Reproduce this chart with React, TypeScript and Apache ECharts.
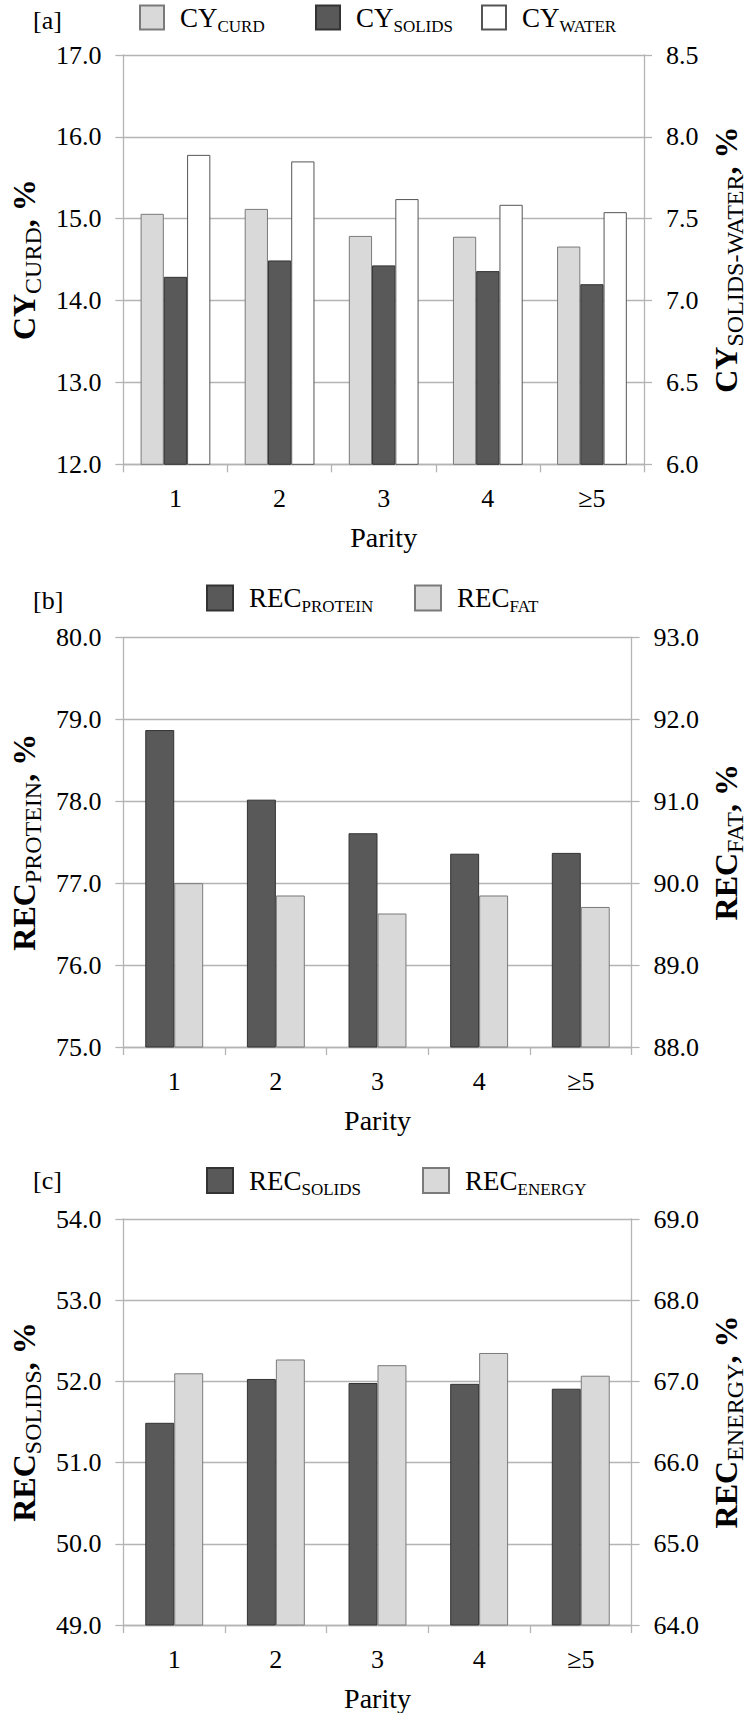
import React, { useEffect, useRef } from "react";
import * as echarts from "echarts";

// Parity classes on the category axis
const parity = ["1", "2", "3", "4", "≥5"];

// [a] cheese yield, %
const cyCurd = [15.06, 15.12, 14.79, 14.78, 14.66];
const cySolids = [7.145, 7.245, 7.215, 7.18, 7.1];
const cyWater = [7.89, 7.85, 7.62, 7.585, 7.54];

// [b] recoveries of protein and fat, %
const recProtein = [78.87, 78.02, 77.61, 77.36, 77.37];
const recFat = [90.0, 89.85, 89.63, 89.85, 89.71];

// [c] recoveries of solids and energy, %
const recSolids = [51.49, 52.03, 51.98, 51.97, 51.91];
const recEnergy = [67.1, 67.27, 67.2, 67.35, 67.07];

const FONT = "'Liberation Serif', 'Times New Roman', serif";
const GRID_COLOR = "#b4b4b4";
const LIGHT = "#d9d9d9";
const DARK = "#595959";
const WHITE = "#ffffff";

const titleRich = {
  m: { fontFamily: FONT, fontSize: 32, fontWeight: "bold" as const, color: "#000" },
  s: { fontFamily: FONT, fontSize: 24, color: "#000", padding: [18, 0, 0, 0] },
};

const legendRich = {
  l: { fontFamily: FONT, fontSize: 27, color: "#000", padding: [0, 0, 0, 11] },
  s: { fontFamily: FONT, fontSize: 17, color: "#000", padding: [17, 0, 0, 0] },
};

function valueAxis(
  gridIndex: number,
  position: "left" | "right",
  min: number,
  max: number,
  interval: number,
  name: string,
  nameGap: number
) {
  return {
    type: "value",
    gridIndex,
    position,
    min,
    max,
    interval,
    name,
    nameLocation: "middle",
    nameRotate: 90,
    nameGap,
    nameTextStyle: { fontFamily: FONT, rich: titleRich },
    axisLine: { show: true, lineStyle: { color: GRID_COLOR, width: 1.3 } },
    axisTick: { show: true, length: 8, lineStyle: { color: GRID_COLOR, width: 1.3 } },
    axisLabel: {
      margin: 22,
      fontFamily: FONT,
      fontSize: 26,
      color: "#000",
      formatter: (v: number) => v.toFixed(1),
    },
    splitLine: {
      show: position === "left",
      lineStyle: { color: GRID_COLOR, width: 1.3 },
    },
  };
}

function categoryAxis(gridIndex: number) {
  return {
    type: "category",
    gridIndex,
    data: parity,
    name: "Parity",
    nameLocation: "middle",
    nameGap: 59,
    nameTextStyle: { fontFamily: FONT, fontSize: 28, color: "#000", lineHeight: 28 },
    axisLine: { show: true, lineStyle: { color: GRID_COLOR, width: 1.3 } },
    axisTick: { show: true, length: 8, lineStyle: { color: GRID_COLOR, width: 1.3 } },
    axisLabel: {
      margin: 21,
      fontFamily: FONT,
      fontSize: 26,
      lineHeight: 26,
      color: "#000",
    },
    splitLine: { show: false },
  };
}

function barSeries(
  name: string,
  data: number[],
  xAxisIndex: number,
  yAxisIndex: number,
  color: string,
  borderColor: string,
  gap: string
) {
  return {
    name,
    type: "bar",
    xAxisIndex,
    yAxisIndex,
    data,
    barGap: "0%",
    barCategoryGap: gap,
    itemStyle: { color, borderColor, borderWidth: 1 },
    emphasis: { disabled: true },
  };
}

function legendItem(name: string, left: number, top: number, w: number, h: number) {
  return {
    data: [name],
    left,
    top,
    itemWidth: w,
    itemHeight: h,
    itemGap: 0,
    padding: 0,
    icon: "rect",
    selectedMode: false,
    formatter: (n: string) => {
      const [a, b] = n.split("_");
      return `{l|${a}}{s|${b}}`;
    },
    textStyle: { fontFamily: FONT, rich: legendRich },
  };
}

function panelLabel(text: string, y: number) {
  return {
    type: "text",
    left: 33,
    top: y - 15,
    style: { text, fontFamily: FONT, fontSize: 26, fill: "#000" },
  };
}

export default function App() {
  const ref = useRef<HTMLDivElement>(null);

  useEffect(() => {
    document.body.style.margin = "0";
    const chart = echarts.init(ref.current!, undefined, { renderer: "svg" });
    chart.setOption({
      animation: false,
      backgroundColor: "#fff",
      textStyle: { fontFamily: FONT },
      grid: [
        { left: 114.3, right: 97.3, top: 55, height: 409.3 },
        { left: 114.6, right: 109.2, top: 637.5, height: 409.5 },
        { left: 114.6, right: 109.2, top: 1219, height: 408 },
      ],
      xAxis: [categoryAxis(0), categoryAxis(1), categoryAxis(2)],
      yAxis: [
        valueAxis(0, "left", 12, 17, 1, "{m|CY}{s|CURD}{m|, %}", 64),
        valueAxis(0, "right", 6, 8.5, 0.5, "{m|CY}{s|SOLIDS-WATER}{m|, %}", 61),
        valueAxis(1, "left", 75, 80, 1, "{m|REC}{s|PROTEIN}{m|, %}", 63.5),
        valueAxis(1, "right", 88, 93, 1, "{m|REC}{s|FAT}{m|, %}", 68),
        valueAxis(2, "left", 49, 54, 1, "{m|REC}{s|SOLIDS}{m|, %}", 63.5),
        valueAxis(2, "right", 64, 69, 1, "{m|REC}{s|ENERGY}{m|, %}", 68),
      ],
      legend: [
        legendItem("CY_CURD", 139, 4, 24, 24),
        legendItem("CY_SOLIDS", 315, 4, 24, 24),
        legendItem("CY_WATER", 481, 4, 24, 24),
        legendItem("REC_PROTEIN", 206, 584.5, 26, 25),
        legendItem("REC_FAT", 414, 584.5, 26, 25),
        legendItem("REC_SOLIDS", 206, 1167, 26, 25),
        legendItem("REC_ENERGY", 422, 1167, 26, 25),
      ],
      series: [
        barSeries("CY_CURD", cyCurd, 0, 0, LIGHT, "#7a7a7a", "33%"),
        barSeries("CY_SOLIDS", cySolids, 0, 1, DARK, "#333333", "33%"),
        barSeries("CY_WATER", cyWater, 0, 1, WHITE, "#555555", "33%"),
        barSeries("REC_PROTEIN", recProtein, 1, 2, DARK, "#333333", "43%"),
        barSeries("REC_FAT", recFat, 1, 3, LIGHT, "#7a7a7a", "43%"),
        barSeries("REC_SOLIDS", recSolids, 2, 4, DARK, "#333333", "43%"),
        barSeries("REC_ENERGY", recEnergy, 2, 5, LIGHT, "#7a7a7a", "43%"),
      ],
      graphic: [panelLabel("[a]", 22), panelLabel("[b]", 602), panelLabel("[c]", 1182)],
    });
    return () => chart.dispose();
  }, []);

  return (
    <div
      ref={ref}
      style={{ position: "absolute", left: 0, top: 0, width: 755, height: 1713 }}
    />
  );
}
